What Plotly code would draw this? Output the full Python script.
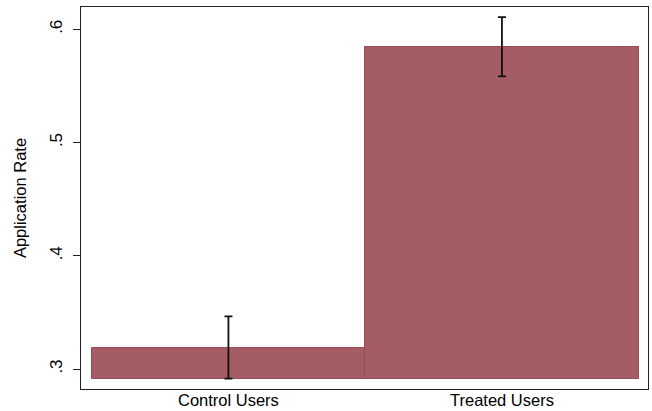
import plotly.graph_objects as go

# Application rates by group, with 95% confidence half-widths
groups = ["Control Users", "Treated Users"]
rates = [0.319, 0.5846]
ci_half = [0.0275, 0.0261]
bar_base = 0.2915

y_ticks = [0.3, 0.4, 0.5, 0.6]
y_tick_text = [".3", ".4", ".5", ".6"]

FONT = "Liberation Sans, Arial, Helvetica, sans-serif"
x_pos = list(range(len(groups)))

fig = go.Figure()
fig.add_trace(go.Bar(
    x=x_pos,
    y=[r - bar_base for r in rates],
    base=[bar_base] * len(rates),
    width=1.0,
    marker=dict(color="#A45D64", line=dict(color="#9A4B55", width=1)),
    showlegend=False,
))
fig.add_trace(go.Scatter(
    x=x_pos,
    y=rates,
    mode="markers",
    marker=dict(size=0.1, color="rgba(0,0,0,0)"),
    error_y=dict(type="data", array=ci_half, color="#111111", thickness=1.8, width=4),
    showlegend=False,
))

# Category labels sit just under the bottom axis line
for xp, name in zip(x_pos, groups):
    fig.add_annotation(
        x=xp, y=-0.029, xref="x", yref="paper",
        text=name, showarrow=False,
        xanchor="center", yanchor="middle",
        font=dict(family=FONT, size=16.5, color="#000000"),
    )

fig.update_layout(
    width=652, height=411,
    margin=dict(l=81, r=4, t=7, b=22),
    paper_bgcolor="white",
    plot_bgcolor="white",
    font=dict(family=FONT, size=16.5, color="#000000"),
    bargap=0,
    xaxis=dict(
        range=[-0.539, 1.534],
        tickvals=x_pos,
        showticklabels=False,
        ticks="",
        showgrid=False,
        zeroline=False,
        showline=True, linecolor="#222222", linewidth=1.3, mirror=True,
        automargin=False,
    ),
    yaxis=dict(
        range=[0.2824, 0.6197],
        tickvals=y_ticks,
        ticktext=y_tick_text,
        tickangle=-90,
        ticks="outside", ticklen=7, tickwidth=1, tickcolor="#222222",
        showgrid=False,
        zeroline=False,
        showline=True, linecolor="#222222", linewidth=1.3, mirror=True,
        tickfont=dict(size=17),
        ticklabelstandoff=4,
        automargin=False,
        title=dict(text="Application Rate", font=dict(size=16.5), standoff=16),
    ),
)

fig.write_html("out.html")
